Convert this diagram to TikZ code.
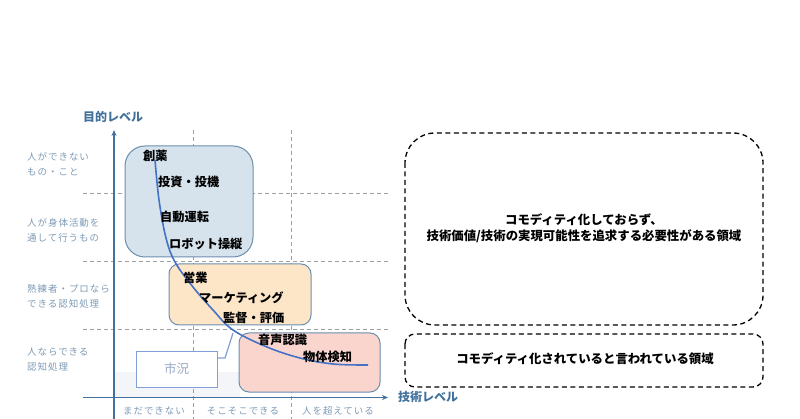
\documentclass[tikz,border=0pt]{standalone}
\usepackage{fontspec}
\setmainfont{Noto Sans CJK JP}
\newfontfamily\labfont{Noto Sans CJK JP}[LetterSpace=10]
\usetikzlibrary{arrows.meta}
\definecolor{axisblue}{HTML}{41719C}
\definecolor{labgray}{HTML}{7E9AB5}
\definecolor{bluefill}{HTML}{D6E3ED}
\definecolor{boxborder}{HTML}{6B8EAD}
\definecolor{orangefill}{HTML}{FDE5C8}
\definecolor{pinkfill}{HTML}{F9D5CE}
\definecolor{curveblue}{HTML}{4472C4}
\definecolor{dashgray}{HTML}{A0A0A0}
\definecolor{shikyoborder}{HTML}{7F9FD6}
\definecolor{shikyotext}{HTML}{98A9C3}
\definecolor{faintband}{HTML}{F3F5F8}
\tikzset{
  gridline/.style={draw=dashgray, line width=1pt, dash pattern=on 4pt off 3pt},
  axisline/.style={draw=axisblue, line width=1.2pt, -{Stealth[length=6pt,width=5pt]}},
  axislabel/.style={text=axisblue, font=\bfseries\fontsize{12}{14}\selectfont, inner sep=0pt},
  rowlabel/.style={text=labgray, font=\labfont\fontsize{9.5}{15}\selectfont, align=left, anchor=west, inner sep=0pt},
  collabel/.style={text=labgray, font=\labfont\fontsize{9.5}{12}\selectfont, inner sep=0pt},
  item/.style={font=\bfseries\fontsize{12.2}{14}\selectfont, anchor=west, inner sep=0pt},
  zone/.style={draw=black, line width=1.3pt, dash pattern=on 5pt off 3.5pt},
  zonetext/.style={font=\bfseries\fontsize{12.4}{16}\selectfont, align=center, inner sep=0pt},
}
\begin{document}
\begin{tikzpicture}[x=1pt,y=-1pt]
\useasboundingbox (0,0) rectangle (800,419);
% faint band
\fill[faintband] (115,372) rectangle (240,396.5);
% grid lines
\draw[gridline] (193,130) -- (193,419);
\draw[gridline] (291,130) -- (291,419);
\draw[gridline] (83,194) -- (388,194);
\draw[gridline] (83,262) -- (388,262);
\draw[gridline] (83,330) -- (388,330);
% boxes
\node[draw=boxborder, fill=bluefill, line width=1pt, rounded corners=20pt, minimum width=128pt, minimum height=111pt, inner sep=0pt] (bluebox) at (189,201.5) {};
\node[draw=boxborder, fill=orangefill, line width=1pt, rounded corners=10pt, minimum width=142pt, minimum height=61pt, inner sep=0pt] (orangebox) at (240,294.5) {};
\node[draw=boxborder, fill=pinkfill, line width=1pt, rounded corners=10pt, minimum width=141pt, minimum height=59pt, inner sep=0pt] (pinkbox) at (309.5,362.5) {};
% shikyo callout
\node[draw=shikyoborder, fill=white, line width=1pt, minimum width=81pt, minimum height=36pt, inner sep=0pt, text=shikyotext, font=\fontsize{12.5}{14}\selectfont] (shikyo) at (176.5,369) {市況};
\coordinate (calloutbase) at (217,358);
\coordinate (calloutknee) at (225,358);
\coordinate (callouttip) at (233,333);
\draw[draw=shikyoborder, line width=1.2pt] (calloutbase) -- (calloutknee) -- (callouttip);
% axes
\draw[axisline] (114,419) -- (114,130);
\draw[axisline] (83,397.5) -- (388,397.5);
\node[axislabel] (ylab) at (113,117) {目的レベル};
\node[axislabel, anchor=west] (xlab) at (398,397) {技術レベル};
% curve
\draw[curveblue, line width=1.6pt] plot[smooth, tension=0.6] coordinates {(155,160) (159,200) (166,238) (175,262) (193,287) (213,310) (233,330) (267,347) (300,358) (333,364) (368,365)};
% items
\node[item] (i1) at (143,156) {創薬};
\node[item] (i2) at (158,182) {投資・投機};
\node[item] (i3) at (160,217) {自動運転};
\node[item] (i4) at (169,244) {ロボット操縦};
\node[item] (i5) at (183,278) {営業};
\node[item] (i6) at (199,298) {マーケティング};
\node[item] (i7) at (223,318) {監督・評価};
\node[item] (i8) at (258,340) {音声認識};
\node[item] (i9) at (303,357) {物体検知};
% row labels
\node[rowlabel] (r1) at (27,164.5) {人ができない\\もの・こと};
\node[rowlabel] (r2) at (27,230.5) {人が身体活動を\\通して行うもの};
\node[rowlabel] (r3) at (27,296) {熟練者・プロなら\\できる認知処理};
\node[rowlabel] (r4) at (27,360) {人ならできる\\認知処理};
% column labels
\node[collabel] (c1) at (154,411) {まだできない};
\node[collabel] (c2) at (243,411) {そこそこできる};
\node[collabel] (c3) at (338,411) {人を超えている};
% right zones
\draw[zone, rounded corners=30pt] (405,133) rectangle (763,325);
\node[zonetext] (z1) at (584,228) {コモディティ化しておらず、\\技術価値/技術の実現可能性を追求する必要性がある領域};
\draw[zone, rounded corners=10pt] (405,334) rectangle (763,387);
\node[zonetext] (z2) at (585,359) {コモディティ化されていると言われている領域};
\end{tikzpicture}
\end{document}
